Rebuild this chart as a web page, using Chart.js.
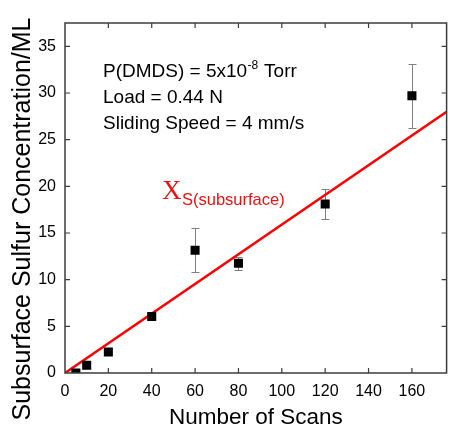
<!DOCTYPE html>
<html>
<head>
<meta charset="utf-8">
<script src="https://cdn.jsdelivr.net/npm/chart.js@4.4.1/dist/chart.umd.min.js"></script>
<style>
  html, body { margin: 0; padding: 0; background: #fff; }
  #wrap { width: 453px; height: 428px; }
</style>
</head>
<body>
<div id="wrap"><canvas id="chart" width="453" height="428"></canvas></div>
<script>
const scans = [5, 10, 20, 40, 60, 80, 120, 160];
const sulfur = [0, 0.82, 2.25, 6.05, 13.15, 11.75, 18.1, 29.7];
const sulfurErr = [0, 0, 0, 0, 2.35, 0.7, 1.6, 3.45];
const fitX = [0, 176];
const fitY = [0, 28];
const xTicks = [0, 20, 40, 60, 80, 100, 120, 140, 160];
const yTicks = [0, 5, 10, 15, 20, 25, 30, 35];

const FONT = "'Liberation Sans', Arial, Helvetica, sans-serif";

// error bars, box frame with inward ticks, and the text notes
const extras = {
    id: "extras",
    beforeDatasetsDraw(chart) {
        const { ctx, scales: { x, y } } = chart;
        ctx.save();
        ctx.strokeStyle = "#808080";
        ctx.lineWidth = 1;
        scans.forEach((s, i) => {
            if (!sulfurErr[i]) return;
            const px = Math.round(x.getPixelForValue(s)) + 0.5;
            const top = Math.round(y.getPixelForValue(sulfur[i] + sulfurErr[i])) + 0.5;
            const bot = Math.round(y.getPixelForValue(sulfur[i] - sulfurErr[i])) + 0.5;
            ctx.beginPath();
            ctx.moveTo(px, top); ctx.lineTo(px, bot);
            ctx.moveTo(px - 4, top); ctx.lineTo(px + 4, top);
            ctx.moveTo(px - 4, bot); ctx.lineTo(px + 4, bot);
            ctx.stroke();
        });
        ctx.restore();
    },
    afterDraw(chart) {
        const { ctx, chartArea: a, scales: { x, y } } = chart;
        ctx.save();
        ctx.strokeStyle = "#3c3c3c";
        ctx.lineWidth = 1.5;
        ctx.strokeRect(a.left, a.top, a.right - a.left, a.bottom - a.top);

        ctx.lineWidth = 1.2;
        ctx.beginPath();
        xTicks.forEach((v) => {
            if (v === 0) return;
            const px = x.getPixelForValue(v);
            ctx.moveTo(px, a.bottom); ctx.lineTo(px, a.bottom - 5);
            ctx.moveTo(px, a.top); ctx.lineTo(px, a.top + 5);
        });
        yTicks.forEach((v) => {
            if (v === 0) return;
            const py = y.getPixelForValue(v);
            ctx.moveTo(a.left, py); ctx.lineTo(a.left + 5, py);
            ctx.moveTo(a.right, py); ctx.lineTo(a.right - 5, py);
        });
        ctx.stroke();

        // y title
        ctx.save();
        ctx.translate(23.5, 219);
        ctx.rotate(-Math.PI / 2);
        ctx.fillStyle = "#000";
        ctx.font = `25px ${FONT}`;
        ctx.textAlign = "center";
        ctx.textBaseline = "middle";
        ctx.fillText("Subsurface Sulfur Concentration/ML", 0, 0);
        ctx.restore();

        // conditions
        ctx.fillStyle = "#000";
        ctx.textAlign = "left";
        ctx.textBaseline = "alphabetic";
        const tx = 103;
        ctx.font = `19px ${FONT}`;
        const first = "P(DMDS) = 5x10";
        ctx.fillText(first, tx, 77);
        const w1 = ctx.measureText(first).width;
        ctx.font = `12px ${FONT}`;
        ctx.fillText("-8", tx + w1 + 0.5, 69);
        const w2 = ctx.measureText("-8").width;
        ctx.font = `19px ${FONT}`;
        ctx.fillText(" Torr", tx + w1 + w2 + 1, 77);
        ctx.fillText("Load = 0.44 N", tx, 103);
        ctx.fillText("Sliding Speed = 4 mm/s", tx, 129);

        // red fit label
        ctx.fillStyle = "#ee1111";
        ctx.font = "27px 'Liberation Serif', 'Times New Roman', serif";
        ctx.fillText("X", 162, 199);
        ctx.font = `16.5px ${FONT}`;
        ctx.fillText("S(subsurface)", 182, 205);
        ctx.restore();
    },
};

new Chart(document.getElementById("chart"), {
    type: "scatter",
    data: {
        datasets: [
            {
                label: "Subsurface sulfur",
                data: scans.map((s, i) => ({ x: s, y: sulfur[i] })),
                pointStyle: "rect",
                pointRadius: 6.4,
                backgroundColor: "#000",
                borderColor: "#000",
                borderWidth: 0,
            },
            {
                label: "Fit",
                data: fitX.map((v, i) => ({ x: v, y: fitY[i] })),
                showLine: true,
                borderColor: "#ff0000",
                borderWidth: 2.5,
                pointRadius: 0,
                tension: 0,
            },
        ],
    },
    options: {
        responsive: false,
        animation: false,
        layout: { padding: { top: 23, right: 0, left: 0, bottom: 0 } },
        plugins: {
            legend: { display: false },
            tooltip: { enabled: false },
        },
        scales: {
            x: {
                type: "linear",
                min: 0,
                max: 176,
                grid: { display: false, drawTicks: false },
                border: { display: false },
                ticks: {
                    stepSize: 20,
                    includeBounds: false,
                    maxRotation: 0,
                    padding: 9,
                    color: "#000",
                    font: { family: FONT, size: 16 },
                },
                title: {
                    display: true,
                    text: "Number of Scans",
                    color: "#000",
                    font: { family: FONT, size: 22.5, lineHeight: 1 },
                    padding: { top: 0, bottom: -1.5 },
                },
                afterFit(scale) { scale.height = 55; },
            },
            y: {
                min: 0,
                max: 37.5,
                grid: { display: false, drawTicks: false },
                border: { display: false },
                ticks: {
                    stepSize: 5,
                    includeBounds: false,
                    padding: 9,
                    color: "#000",
                    font: { family: FONT, size: 16 },
                },
                afterFit(scale) { scale.width = 65; },
            },
        },
    },
    plugins: [extras],
});
</script>
</body>
</html>
